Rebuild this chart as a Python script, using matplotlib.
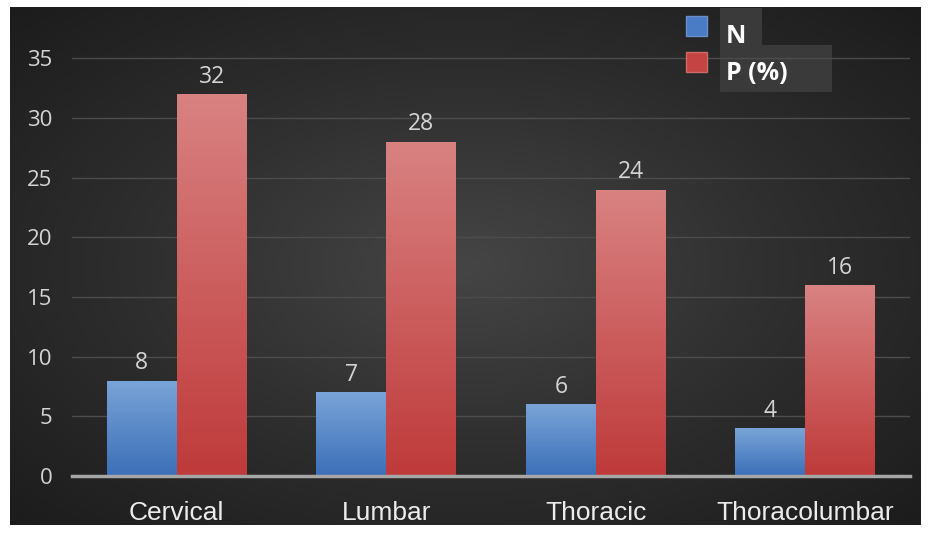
import numpy as np
import matplotlib.pyplot as plt
import matplotlib.transforms as mtransforms
from matplotlib.colors import LinearSegmentedColormap
from matplotlib.patches import Patch, Rectangle

categories = ['Cervical', 'Lumbar', 'Thoracic', 'Thoracolumbar']
n_values = [8, 7, 6, 4]
p_values = [32, 28, 24, 16]
y_ticks = [0, 5, 10, 15, 20, 25, 30, 35]

W, H = 933, 533
fig = plt.figure(figsize=(W / 100, H / 100), dpi=100, facecolor='white')

# dark panel with a soft radial glow
bg = fig.add_axes([10 / W, 8 / H, 911 / W, 518 / H])
bg.set_zorder(-2)
yy, xx = np.mgrid[-1:1:300j, -1:1:500j]
r = np.sqrt(xx ** 2 + yy ** 2)
glow = LinearSegmentedColormap.from_list('glow', ['#454545', '#2e2e2e', '#1b1b1b'])
bg.imshow(r, cmap=glow, aspect='auto', extent=[0, 1, 0, 1], vmin=0, vmax=1.45)
bg.axis('off')

# grey boxes behind the legend labels (pixel coords from top-left)
for (x0, y0, x1, y1) in [(720, 8, 762, 45), (720, 45, 832, 92)]:
    fig.patches.append(Rectangle((x0 / W, 1 - y1 / H), (x1 - x0) / W, (y1 - y0) / H,
                                 transform=fig.transFigure, facecolor='#3a3a3a',
                                 edgecolor='none', zorder=-1))

ax = fig.add_axes([72 / W, 57 / H, 838 / W, 469 / H])
ax.set_facecolor('none')

x = np.arange(len(categories))
w = 1 / 3
bars_n = ax.bar(x - w / 2, n_values, w, color='#4f7fc4', zorder=3, label='N')
bars_p = ax.bar(x + w / 2, p_values, w, color='#c84848', zorder=3, label='P (%)')

blue = LinearSegmentedColormap.from_list('b', ['#3b6fb8', '#7aa4d8'])
red = LinearSegmentedColormap.from_list('r', ['#bf3a3a', '#d98282'])
grad = np.linspace(0, 1, 256).reshape(-1, 1)
for bars, cmap in [(bars_n, blue), (bars_p, red)]:
    for b in bars:
        x0, h, bw = b.get_x(), b.get_height(), b.get_width()
        im = ax.imshow(grad, cmap=cmap, origin='lower', aspect='auto',
                       extent=[x0, x0 + bw, 0, h], zorder=4)
        im.set_clip_path(b)
        ax.annotate(f'{h:g}', (x0 + bw / 2, h), xytext=(0, 4), textcoords='offset points',
                    ha='center', va='bottom', color='#d4d4d4', fontsize=16.5,
                    family='Open Sans', zorder=5)

ax.set_xlim(-0.5, len(categories) - 0.5)
ax.set_ylim(0, 39.3)
ax.set_yticks(y_ticks)
ax.set_xticks(x)
ax.set_xticklabels(categories, family='Liberation Sans', fontsize=19, color='#ececec')
for t in ax.get_yticklabels():
    t.set_family('Open Sans')
    t.set_fontsize(16)
    t.set_color('#d4d4d4')
ax.tick_params(length=0)
ax.tick_params(axis='y', pad=14)
ax.tick_params(axis='x', pad=18)
ax.grid(axis='y', color='#4c4c4c', lw=1, zorder=0)
for s in ['top', 'right', 'left']:
    ax.spines[s].set_visible(False)
ax.spines['bottom'].set_color('#a6a6a6')
ax.spines['bottom'].set_linewidth(2.5)
ax.spines['bottom'].set_zorder(6)

handles = [Patch(facecolor='#4a7cc6', edgecolor='#6a8fc8'),
           Patch(facecolor='#c44444', edgecolor='#cc6a6a')]
leg = ax.legend(handles, ['N', 'P (%)'], loc='upper left', bbox_to_anchor=(0.706, 1.03),
                frameon=False, handlelength=0.85, handleheight=0.85, handletextpad=0.75,
                labelspacing=0.45, prop={'family': 'Open Sans', 'weight': 'bold', 'size': 18})
# labels sit a little lower than their swatches in the original
shift = mtransforms.ScaledTranslation(0, -9 / 100, fig.dpi_scale_trans)
for t in leg.get_texts():
    t.set_color('white')
    t.set_transform(t.get_transform() + shift)

fig.savefig('out.png', dpi=100, facecolor='white')
